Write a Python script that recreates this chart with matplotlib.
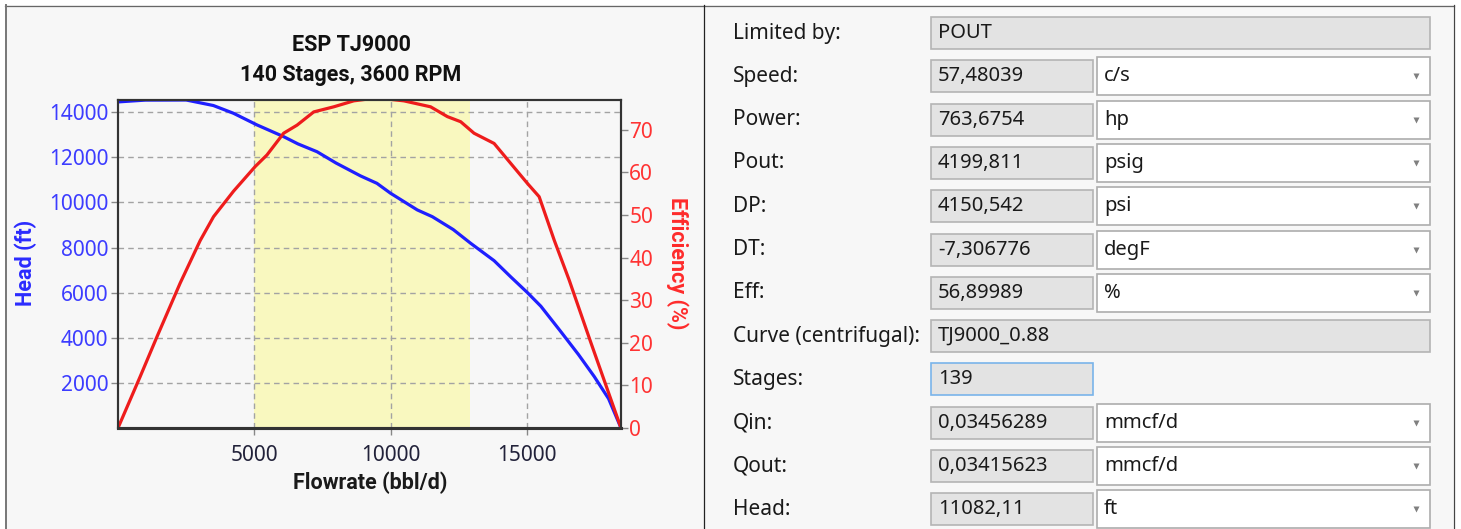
import matplotlib
matplotlib.use("Agg")
import matplotlib.pyplot as plt
from matplotlib.patches import Rectangle

# pump curve
flow_head = [0, 1000, 2500, 3500, 4240, 5100, 6077, 6600, 7305, 8000, 8897, 9500,
             10000, 10982, 11534, 12300, 12941, 13800, 14412, 15025, 15515, 16250,
             16900, 17475, 18000, 18456]
head_ft = [14460, 14540, 14545, 14300, 13955, 13440, 12920, 12600, 12250, 11750, 11180,
           10850, 10410, 9670, 9370, 8800, 8190, 7420, 6700, 6000, 5400, 4270, 3250,
           2280, 1300, 0]

flow_eff = [0, 809, 1422, 2280, 3015, 3505, 4240, 5037, 5466, 6077, 6570, 7181, 7916,
            8650, 9500, 10490, 11470, 12085, 12574, 13064, 13800, 14412, 15025, 15453,
            16005, 16556, 17353, 18456]
eff_pct = [0, 12.0, 21.3, 34.0, 44.0, 49.6, 55.6, 61.4, 64.1, 69.2, 71.1, 74.2, 75.4,
           76.8, 77.5, 76.8, 75.4, 73.1, 71.9, 69.2, 66.8, 62.1, 57.4, 54.3, 44.1, 34.7,
           20.0, 0]

bep_range = [5000, 12900]
head_ticks = [2000, 4000, 6000, 8000, 10000, 12000, 14000]
eff_ticks = [0, 10, 20, 30, 40, 50, 60, 70]
flow_ticks = [5000, 10000, 15000]
title_lines = ["ESP TJ9000", "140 Stages, 3600 RPM"]

# form on the right
field_labels = ["Limited by:", "Speed:", "Power:", "Pout:", "DP:", "DT:", "Eff:",
                "Curve (centrifugal):", "Stages:", "Qin:", "Qout:", "Head:"]
field_values = ["POUT", "57,48039", "763,6754", "4199,811", "4150,542", "-7,306776",
                "56,89989", "TJ9000_0.88", "139", "0,03456289", "0,03415623", "11082,11"]
field_units = [None, "c/s", "hp", "psig", "psi", "degF", "%", None, None,
               "mmcf/d", "mmcf/d", "ft"]
field_kind = ["wide", "combo", "combo", "combo", "combo", "combo", "combo", "wide",
              "edit", "combo", "combo", "combo"]

W, H = 1461, 529
plt.rcParams['font.family'] = ['Noto Sans', 'DejaVu Sans']
bold_font = ['Roboto', 'DejaVu Sans']
fig = plt.figure(figsize=(W / 100, H / 100), dpi=100)
fig.patch.set_facecolor('white')

bg = fig.add_axes([0, 0, 1, 1])
bg.set_xlim(0, W)
bg.set_ylim(H, 0)
bg.axis('off')

panel = '#f7f7f7'
bg.add_patch(Rectangle((5, 5), 698, 530, fc=panel, ec='none'))
bg.add_patch(Rectangle((703, 5), 750, 530, fc=panel, ec='none'))
bg.plot([5, 1454], [5.5, 5.5], color='#666666', lw=0.9)
bg.plot([5.5, 5.5], [5, H], color='#777777', lw=1.4)
bg.plot([703.5, 703.5], [5, H], color='#222222', lw=0.9)
bg.plot([1453.5, 1453.5], [5, H], color='#444444', lw=0.9)

# chart texts
bg.text(351, 45, title_lines[0], ha='center', va='center', fontsize=15.5,
        fontweight='bold', family=bold_font, color='#111111')
bg.text(351, 75, title_lines[1], ha='center', va='center', fontsize=15.5,
        fontweight='bold', family=bold_font, color='#111111')
bg.text(26, 263, "Head (ft)", rotation=90, ha='center', va='center', fontsize=15.5,
        fontweight='bold', family=bold_font, color='#2b2bff')
bg.text(677, 263, "Efficiency (%)", rotation=270, ha='center', va='center',
        fontsize=15.5, fontweight='bold', family=bold_font, color='#ff2b2b')
bg.text(370, 483, "Flowrate (bbl/d)", ha='center', va='center', fontsize=15.5,
        fontweight='bold', family=bold_font, color='#1a1a1a')

# chart
ax = fig.add_axes([118 / W, 1 - 428 / H, 503 / W, 328 / H])
ax.set_facecolor('none')
ax.axvspan(bep_range[0], bep_range[1], color='#f9f8bf', lw=0)
ax.plot(flow_head, head_ft, color='#1f1fff', lw=2.3, solid_joinstyle='round')
ax.set_xlim(0, 18456)
ax.set_ylim(0, 14545)
ax.set_xticks(flow_ticks)
ax.set_yticks(head_ticks)
ax.grid(True, color='#a3a3a3', ls=(0, (4, 3)), lw=1.0)
ax.tick_params(axis='y', colors='#888888', labelcolor='#3c3cff', labelsize=15,
               length=5, width=1, pad=2)
ax.tick_params(axis='x', colors='#888888', labelcolor='#22223a', labelsize=15,
               length=5, width=1, pad=7)

ax2 = ax.twinx()
ax2.plot(flow_eff, eff_pct, color='#ee1c1c', lw=2.3, solid_joinstyle='round')
ax2.set_ylim(0, 77)
ax2.set_yticks(eff_ticks)
ax2.tick_params(axis='y', colors='#888888', labelcolor='#ff3333', labelsize=15,
                length=5, width=1, pad=1)
for a in (ax, ax2):
    for s in a.spines.values():
        s.set_color('#333333')
        s.set_linewidth(1.5)
    a.spines['bottom'].set_linewidth(2.2)

# form
text_col = '#1a1a1a'
for i, lab in enumerate(field_labels):
    yc = 33 + 43.3 * i
    bg.text(733, yc, lab, ha='left', va='center', fontsize=15, color=text_col)
    kind = field_kind[i]
    if kind == 'wide':
        bg.add_patch(Rectangle((931, yc - 16), 499, 32, fc='#e3e3e3', ec='#b4b4b4', lw=1.2))
    elif kind == 'edit':
        bg.add_patch(Rectangle((931, yc - 16), 162, 32, fc='#e3e3e3', ec='#7ab4ea', lw=1.2))
    else:
        bg.add_patch(Rectangle((931, yc - 16), 162, 32, fc='#e3e3e3', ec='#b4b4b4', lw=1.2))
        bg.add_patch(Rectangle((1097, yc - 19), 333, 38, fc='white', ec='#adadad', lw=1.2))
        bg.plot([1416], [yc], marker='v', ms=5, color='#808080', mec='none')
        bg.text(1104, yc, field_units[i], ha='left', va='center', fontsize=14.5,
                color=text_col)
    bg.text(938, yc, field_values[i], ha='left', va='center', fontsize=14.5,
            color=text_col)

fig.savefig('out.png', dpi=100)
